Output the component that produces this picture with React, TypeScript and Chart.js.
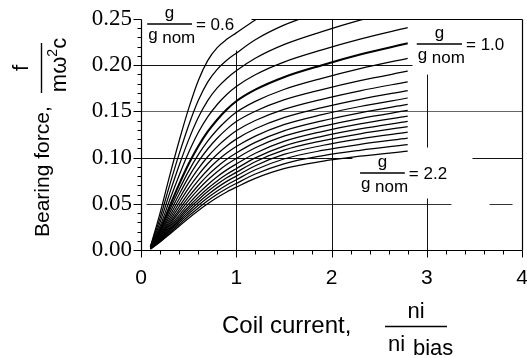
import React, { useEffect, useRef } from "react";
import { Chart, registerables } from "chart.js";

Chart.register(...registerables);

// Coil current ni/ni_bias at which the curves were read
const COIL_CURRENT = [0.1, 0.2, 0.3, 0.4, 0.5, 0.6, 0.7, 0.8, 0.9, 1.0, 1.2, 1.5, 1.9, 2.3, 2.8];

// Bearing force f/(m w^2 c), one curve per gap ratio g/g_nom (top = 0.6, 5th = 1.0, bottom = 2.2)
const CURVE_01 = [0.004, 0.04, 0.08, 0.118, 0.153, 0.183, 0.205, 0.219, 0.228, 0.235, 0.249, 0.267, 0.287, 0.303, 0.32];
const CURVE_02 = [0.0037, 0.0345, 0.0699, 0.1037, 0.1348, 0.1615, 0.1817, 0.1955, 0.2053, 0.213, 0.2275, 0.2433, 0.2584, 0.2718, 0.286];
const CURVE_03 = [0.0035, 0.0298, 0.0613, 0.0915, 0.1192, 0.1431, 0.1617, 0.1754, 0.1857, 0.194, 0.2075, 0.2222, 0.2363, 0.2487, 0.262];
const CURVE_04 = [0.0033, 0.0257, 0.0538, 0.0807, 0.1055, 0.1269, 0.1441, 0.1575, 0.1683, 0.177, 0.1897, 0.2034, 0.2166, 0.2282, 0.2406];
const CURVE_05 = [0.003, 0.022, 0.047, 0.071, 0.093, 0.112, 0.128, 0.141, 0.152, 0.161, 0.1735, 0.187, 0.2, 0.2115, 0.2237];
const CURVE_06 = [0.0028, 0.0203, 0.0431, 0.0651, 0.0854, 0.1029, 0.1178, 0.1301, 0.1404, 0.149, 0.1608, 0.1737, 0.1858, 0.1963, 0.2075];
const CURVE_07 = [0.0026, 0.0188, 0.0398, 0.0601, 0.0789, 0.0953, 0.1093, 0.1209, 0.1308, 0.139, 0.1502, 0.1624, 0.1736, 0.1833, 0.1935];
const CURVE_08 = [0.0023, 0.0174, 0.0365, 0.0552, 0.0726, 0.0878, 0.1009, 0.1119, 0.1212, 0.129, 0.1401, 0.1521, 0.1631, 0.1723, 0.182];
const CURVE_09 = [0.0021, 0.0161, 0.0336, 0.0509, 0.0669, 0.081, 0.0933, 0.1037, 0.1126, 0.12, 0.1312, 0.1433, 0.1541, 0.1631, 0.1725];
const CURVE_10 = [0.002, 0.0149, 0.0311, 0.0469, 0.0619, 0.0751, 0.0866, 0.0965, 0.1049, 0.112, 0.1233, 0.1357, 0.1465, 0.1553, 0.1645];
const CURVE_11 = [0.0018, 0.0139, 0.0288, 0.0435, 0.0574, 0.0698, 0.0808, 0.0901, 0.0982, 0.105, 0.1165, 0.129, 0.1398, 0.1485, 0.1575];
const CURVE_12 = [0.0017, 0.013, 0.0269, 0.0406, 0.0537, 0.0653, 0.0757, 0.0847, 0.0925, 0.099, 0.1106, 0.1232, 0.1338, 0.1423, 0.151];
const CURVE_13 = [0.0016, 0.0122, 0.025, 0.0377, 0.0499, 0.0609, 0.0707, 0.0793, 0.0867, 0.093, 0.1047, 0.1175, 0.1282, 0.1365, 0.145];
const CURVE_14 = [0.0014, 0.0114, 0.0234, 0.0353, 0.0468, 0.0572, 0.0666, 0.0748, 0.0819, 0.088, 0.0997, 0.1125, 0.123, 0.131, 0.1392];
const CURVE_15 = [0.0014, 0.0108, 0.0221, 0.0333, 0.0442, 0.0541, 0.0632, 0.0711, 0.0781, 0.084, 0.0955, 0.1081, 0.1182, 0.1258, 0.1335];
const CURVE_16 = [0.0013, 0.0103, 0.0208, 0.0314, 0.0417, 0.0512, 0.0598, 0.0675, 0.0743, 0.08, 0.0912, 0.1034, 0.1131, 0.1203, 0.1275];
const CURVE_17 = [0.0012, 0.0097, 0.0195, 0.0295, 0.0392, 0.0482, 0.0565, 0.0639, 0.0704, 0.076, 0.0868, 0.0985, 0.1077, 0.1143, 0.121];
const CURVE_18 = [0.0011, 0.0091, 0.0183, 0.0276, 0.0368, 0.0453, 0.0532, 0.0603, 0.0666, 0.072, 0.0822, 0.0933, 0.1019, 0.1079, 0.114];
const CURVE_19 = [0.001, 0.0086, 0.0171, 0.0258, 0.0344, 0.0424, 0.05, 0.0568, 0.0628, 0.068, 0.0776, 0.0881, 0.096, 0.1015, 0.107];

const CURVES = [
  CURVE_01, CURVE_02, CURVE_03, CURVE_04, CURVE_05, CURVE_06, CURVE_07, CURVE_08, CURVE_09, CURVE_10,
  CURVE_11, CURVE_12, CURVE_13, CURVE_14, CURVE_15, CURVE_16, CURVE_17, CURVE_18, CURVE_19,
];
const HIGHLIGHT_CURVE = 4; // g/g_nom = 1.0

const X_TICKS = [0, 1, 2, 3, 4];
const Y_TICKS = [0, 0.05, 0.1, 0.15, 0.2, 0.25];
const GAP_LABELS = ["0.6", "1.0", "2.2"];

const SANS = '"Liberation Sans", Arial, Helvetica, sans-serif';
const SERIF = '"Liberation Serif", "Times New Roman", Times, serif';

const overlayPlugin = {
  id: "overlay",
  beforeDatasetsDraw(chart: any) {
    const { ctx, scales } = chart;
    const X = (v: number) => Math.round(scales.x.getPixelForValue(v)) + 0.5;
    const Y = (v: number) => Math.round(scales.y.getPixelForValue(v)) + 0.5;
    ctx.save();
    const seg = (x1: number, y1: number, x2: number, y2: number, color = "#111", w = 1) => {
      ctx.beginPath();
      ctx.strokeStyle = color;
      ctx.lineWidth = w;
      ctx.moveTo(X(x1), Y(y1));
      ctx.lineTo(X(x2), Y(y2));
      ctx.stroke();
    };
    // horizontal grid pieces
    seg(0.05, 0.05, 3.25, 0.05, "#333");
    seg(3.65, 0.05, 3.9, 0.05, "#333");
    seg(0, 0.1, 2.22, 0.1, "#111");
    seg(3.48, 0.1, 4, 0.1, "#111");
    seg(0, 0.15, 4, 0.15, "#666");
    seg(0, 0.2, 2.85, 0.2, "#111");
    // vertical grid pieces
    seg(1, 0, 1, 0.216, "#111");
    seg(2, 0, 2, 0.25, "#111");
    seg(3, 0, 3, 0.056, "#111");
    seg(3, 0.111, 3, 0.19, "#111");
    ctx.restore();
  },
  afterDatasetsDraw(chart: any) {
    const { ctx, scales } = chart;
    const X = (v: number) => Math.round(scales.x.getPixelForValue(v)) + 0.5;
    const Y = (v: number) => Math.round(scales.y.getPixelForValue(v)) + 0.5;
    ctx.save();
    ctx.strokeStyle = "#000";
    ctx.fillStyle = "#000";
    ctx.lineWidth = 1.2;
    const line = (x1: number, y1: number, x2: number, y2: number) => {
      ctx.beginPath();
      ctx.moveTo(x1, y1);
      ctx.lineTo(x2, y2);
      ctx.stroke();
    };
    const x0 = X(0), x4 = X(4), y0 = Y(0), yTop = Y(0.25);
    // axes and frame
    line(x0, y0, x0, yTop);
    line(x0, y0, x4, y0);
    line(x4, y0, x4, yTop);
    line(X(1.15), yTop, x4, yTop);
    // y ticks
    ctx.lineWidth = 1;
    for (let i = 0; i <= 25; i++) {
      const yy = Y(i / 100);
      const major = i % 5 === 0;
      line(x0, yy, x0 - (major ? 8 : 4), yy);
    }
    // x ticks
    for (let i = 0; i <= 20; i++) {
      const xx = X(i / 5);
      const major = i % 5 === 0;
      line(xx, y0, xx, y0 + (major ? 7 : 4));
    }

    // gap-ratio annotations
    const frac = (l: number, r: number, by: number, val: string) => {
      ctx.font = `17px ${SANS}`;
      ctx.textAlign = "center";
      ctx.textBaseline = "alphabetic";
      ctx.fillText("g", (l + r) / 2, by - 6);
      ctx.lineWidth = 1.6;
      line(l, by, r, by);
      ctx.textAlign = "left";
      ctx.fillText("g", l + 1, by + 16);
      ctx.fillText("nom", l + 15, by + 19);
      ctx.textBaseline = "middle";
      ctx.fillText("= " + val, r + 4, by + 1);
    };
    const P = (v: number) => scales.x.getPixelForValue(v);
    const Q = (v: number) => scales.y.getPixelForValue(v);
    frac(P(0.065), P(0.535), Q(0.2446), GAP_LABELS[0]);
    frac(P(2.895), P(3.37), Q(0.2229), GAP_LABELS[1]);
    frac(P(2.3), P(2.77), Q(0.0833), GAP_LABELS[2]);

    // x axis title
    const ca = chart.chartArea;
    ctx.textBaseline = "alphabetic";
    ctx.textAlign = "left";
    ctx.font = `24px ${SANS}`;
    ctx.fillText("Coil current,", ca.left + 81, ca.bottom + 83);
    ctx.font = `22px ${SANS}`;
    ctx.textAlign = "center";
    ctx.fillText("ni", ca.left + 275, ca.bottom + 68);
    ctx.lineWidth = 1.4;
    line(ca.left + 244, ca.bottom + 76.5, ca.left + 306, ca.bottom + 76.5);
    ctx.textAlign = "left";
    ctx.fillText("ni", ca.left + 247, ca.bottom + 101);
    ctx.fillText("bias", ca.left + 272, ca.bottom + 105);

    // y axis title (rotated): screen (sx, sy) -> local (-sy, sx)
    ctx.save();
    ctx.rotate(-Math.PI / 2);
    ctx.font = `21px ${SANS}`;
    ctx.textAlign = "left";
    ctx.fillText("Bearing force,", -(ca.bottom - 13), 49);
    ctx.font = `22px ${SANS}`;
    ctx.textAlign = "center";
    ctx.fillText("f", -68, 28);
    ctx.lineWidth = 1.4;
    line(-93, 41.5, -43, 41.5);
    // denominator m w^2 c
    ctx.textAlign = "left";
    const big = `22px ${SANS}`;
    const small = `14px ${SANS}`;
    ctx.font = big;
    const w1 = ctx.measureText("mω").width;
    const w3 = ctx.measureText("c").width;
    ctx.font = small;
    const w2 = ctx.measureText("2").width;
    const total = w1 + w2 + w3;
    let u = -65 - total / 2;
    ctx.font = big;
    ctx.fillText("mω", u, 66);
    u += w1;
    ctx.font = small;
    ctx.fillText("2", u, 57);
    u += w2;
    ctx.font = big;
    ctx.fillText("c", u, 66);
    ctx.restore();

    ctx.restore();
  },
};

export default function App() {
  const ref = useRef<HTMLCanvasElement | null>(null);
  useEffect(() => {
    document.body.style.margin = "0";
    const canvas = ref.current;
    if (!canvas) return;
    const datasets = CURVES.map((curve, i) => ({
      data: COIL_CURRENT.map((x, k) => ({ x, y: curve[k] })),
      borderColor: "#000",
      borderWidth: i === HIGHLIGHT_CURVE ? 2.1 : 1.25,
      pointRadius: 0,
      fill: false,
      cubicInterpolationMode: "monotone" as const,
    }));
    const chart = new Chart(canvas, {
      type: "line",
      data: { datasets },
      options: {
        animation: false,
        responsive: false,
        events: [],
        layout: { autoPadding: false, padding: { top: 19, right: 5, left: 0, bottom: 0 } },
        plugins: { legend: { display: false }, tooltip: { enabled: false } },
        scales: {
          x: {
            type: "linear",
            min: X_TICKS[0],
            max: X_TICKS[X_TICKS.length - 1],
            afterFit: (s: any) => {
              s.height = 108;
              s.paddingLeft = 0;
              s.paddingRight = 0;
            },
            grid: { display: false, drawTicks: false },
            border: { display: false },
            ticks: {
              stepSize: 1,
              padding: 16,
              color: "#000",
              maxRotation: 0,
              font: { family: SANS, size: 21 },
              callback: (v: any) => String(v),
            },
          },
          y: {
            type: "linear",
            min: Y_TICKS[0],
            max: Y_TICKS[Y_TICKS.length - 1],
            afterFit: (s: any) => {
              s.width = 141;
              s.paddingTop = 0;
              s.paddingBottom = 0;
            },
            grid: { display: false, drawTicks: false },
            border: { display: false },
            ticks: {
              stepSize: 0.05,
              padding: 9,
              color: "#000",
              font: { family: SERIF, size: 23 },
              callback: (v: any) => Number(v).toFixed(2),
            },
          },
        },
      },
      plugins: [overlayPlugin],
    });
    return () => chart.destroy();
  }, []);
  return (
    <div style={{ width: 527, height: 358, background: "#fff" }}>
      <canvas ref={ref} width={527} height={358} />
    </div>
  );
}
